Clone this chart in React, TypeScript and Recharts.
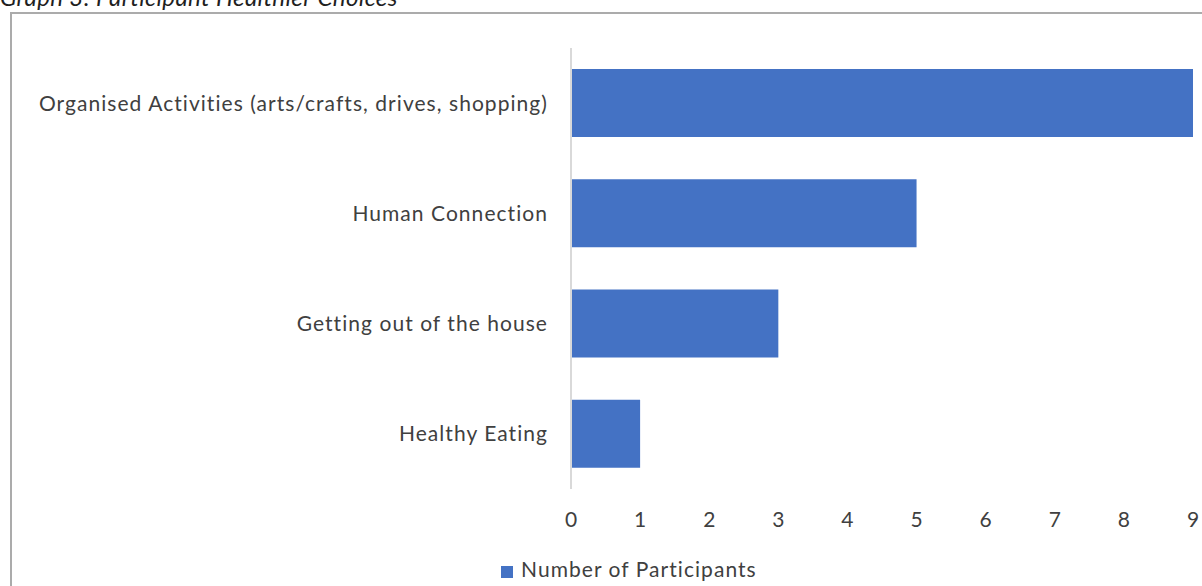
import { BarChart, Bar, XAxis, YAxis, Legend } from "recharts";

const categories: string[] = [
  "Organised Activities (arts/crafts, drives, shopping)",
  "Human Connection",
  "Getting out of the house",
  "Healthy Eating",
];

const participants: number[] = [9, 5, 3, 1];

const xTicks: number[] = [0, 1, 2, 3, 4, 5, 6, 7, 8, 9];

const chartData = categories.map((name, i) => ({
  name,
  participants: participants[i],
}));

const FONT = "Lato, 'Open Sans', sans-serif";
const TEXT = "#404040";

const App = () => {
  return (
    <div
      style={{
        position: "fixed",
        left: 0,
        top: 0,
        width: 1202,
        height: 586,
        overflow: "hidden",
        background: "#fff",
        fontFamily: FONT,
      }}
    >
      {/* Title, mostly cropped off the top */}
      <div
        style={{
          position: "absolute",
          left: 0,
          top: -13,
          fontSize: 24,
          lineHeight: "20px",
          fontStyle: "italic",
          letterSpacing: 0.4,
          color: "#1f1f1f",
          whiteSpace: "nowrap",
        }}
      >
        Graph 3: Participant Healthier Choices
      </div>

      {/* Chart frame */}
      <div
        style={{
          position: "absolute",
          left: 10,
          top: 12,
          width: 1260,
          height: 640,
          border: "2px solid #ababab",
        }}
      />

      <div style={{ position: "absolute", left: 0, top: 0 }}>
        <BarChart
          width={1202}
          height={586}
          data={chartData}
          layout="vertical"
          margin={{ top: 48, right: 9, bottom: 0, left: 0 }}
          barCategoryGap="19%"
          style={{ overflow: "visible" }}
        >
          <XAxis
            type="number"
            domain={[0, 9]}
            ticks={xTicks}
            axisLine={false}
            tickLine={false}
            tickSize={0}
            tickMargin={23}
            tick={{ fill: TEXT, fontSize: 21, fontFamily: FONT }}
            height={72}
          />
          <YAxis
            type="category"
            dataKey="name"
            width={571}
            axisLine={{ stroke: "#d9d9d9", strokeWidth: 2 }}
            tickLine={false}
            tickSize={0}
            tickMargin={23}
            tick={{
              fill: TEXT,
              fontSize: 21,
              fontFamily: FONT,
              style: { letterSpacing: 1.05 },
            }}
          />
          <Legend
            verticalAlign="bottom"
            align="left"
            iconType="square"
            iconSize={12}
            wrapperStyle={{
              left: 501,
              bottom: 5,
              width: "auto",
              fontSize: 21,
              color: TEXT,
              fontFamily: FONT,
            }}
            formatter={(value) => (
              <span style={{ color: TEXT, marginLeft: 4, letterSpacing: 1.05 }}>
                {value}
              </span>
            )}
          />
          <Bar
            dataKey="participants"
            name="Number of Participants"
            fill="#4472c4"
            isAnimationActive={false}
          />
        </BarChart>
      </div>
    </div>
  );
};

export default App;
